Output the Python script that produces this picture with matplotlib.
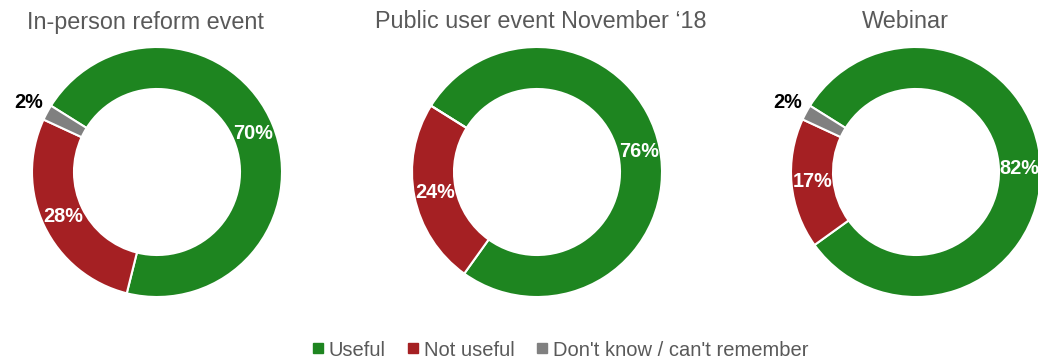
import numpy as np
import matplotlib
matplotlib.use("Agg")
import matplotlib.pyplot as plt
from matplotlib.lines import Line2D

plt.rcParams['font.family'] = ['Liberation Sans', 'DejaVu Sans']

titles = ["In-person reform event", "Public user event November \u201818", "Webinar"]
categories = ["Useful", "Not useful", "Don't know / can't remember"]
useful = [70, 76, 82]
not_useful = [28, 24, 17]
dont_know = [2, 0, 2]

colors = ["#1E8520", "#A52023", "#808080"]
W, H = 1038, 362
fig = plt.figure(figsize=(W / 100, H / 100), dpi=100)

centers_x = [157, 537, 916]
title_x = [145, 541, 905]
cy = 172
R = 125
start_angles = [148, 148, 148]

for i in range(3):
    vals = [useful[i], not_useful[i], dont_know[i]]
    ax = fig.add_axes([(centers_x[i] - R) / W, (H - cy - R) / H, 2 * R / W, 2 * R / H])
    ax.pie(vals, colors=colors, startangle=start_angles[i], counterclock=False,
           radius=1.0, wedgeprops=dict(width=0.336, edgecolor="white", linewidth=1.5))
    ax.set_xlim(-1, 1)
    ax.set_ylim(-1, 1)
    ax.set_aspect("equal")
    ax.axis("off")
    total = sum(vals)
    ang = start_angles[i]
    for v in vals:
        if v <= 0:
            continue
        span = 360.0 * v / total
        mid = np.deg2rad(ang - span / 2)
        ang -= span
        if v < 5:
            r, col = 1.17, "black"
        else:
            r, col = 0.83, "white"
        ax.text(r * np.cos(mid), r * np.sin(mid), f"{v}%", ha="center", va="center",
                color=col, fontsize=14.3, fontweight="bold", clip_on=False)
    fig.text(title_x[i] / W, 1 - 22 / H, titles[i], ha="center", va="center",
             fontsize=16.8, color="#595959")

handles = [Line2D([0], [0], marker="s", linestyle="none", markersize=6.5,
                  markerfacecolor=c, markeredgecolor=c) for c in colors]
fig.legend(handles, categories, loc="center", bbox_to_anchor=(560 / W, 12 / H),
           ncol=3, frameon=False, fontsize=14.5, handlelength=0.6,
           handletextpad=0.25, columnspacing=1.05, labelcolor="#595959",
           borderaxespad=0, borderpad=0)

fig.savefig("out.png", dpi=100)
